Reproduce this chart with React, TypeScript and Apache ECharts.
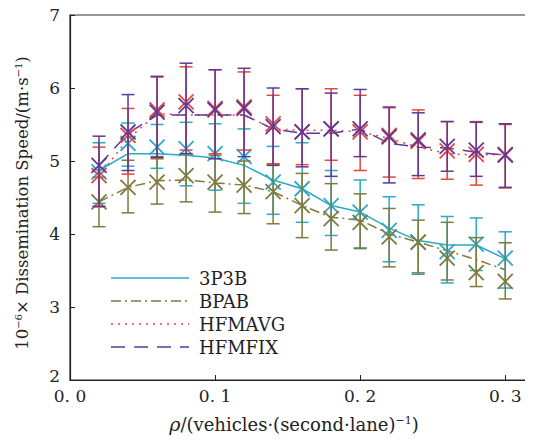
import React, { useEffect, useRef } from "react";
import * as echarts from "echarts";

const xData = [0.02, 0.04, 0.06, 0.08, 0.1, 0.12, 0.14, 0.16, 0.18, 0.2, 0.22, 0.24, 0.26, 0.28, 0.3];
const xTickValues = [0, 0.1, 0.2, 0.3];
const yTickValues = [2, 3, 4, 5, 6, 7];

// 3P3B
const p3Mean = [4.85, 5.24, 5.19, 5.17, 5.10, 5.06, 4.71, 4.62, 4.39, 4.30, 4.05, 3.89, 3.76, 3.86, 3.67];
const p3Line = [4.87, 5.10, 5.10, 5.08, 5.04, 4.94, 4.74, 4.62, 4.39, 4.30, 4.08, 3.91, 3.85, 3.85, 3.66];
const p3High = [5.25, 5.52, 5.50, 5.53, 5.51, 5.44, 5.20, 5.25, 4.87, 4.74, 4.51, 4.40, 4.24, 4.22, 4.03];
const p3Low = [4.42, 4.93, 4.90, 4.66, 4.60, 4.42, 4.27, 4.16, 3.98, 3.81, 3.62, 3.47, 3.33, 3.50, 3.26];

// BPAB
const bpMean = [4.44, 4.64, 4.71, 4.80, 4.71, 4.67, 4.58, 4.39, 4.21, 4.16, 3.96, 3.89, 3.67, 3.47, 3.35];
const bpLine = [4.44, 4.64, 4.73, 4.74, 4.70, 4.67, 4.58, 4.39, 4.23, 4.19, 4.00, 3.89, 3.77, 3.65, 3.51];
const bpHigh = [4.78, 5.01, 5.03, 5.10, 5.08, 5.00, 4.96, 4.83, 4.69, 4.55, 4.35, 4.19, 4.16, 3.95, 3.88];
const bpLow = [4.10, 4.29, 4.41, 4.44, 4.30, 4.28, 4.14, 3.95, 3.78, 3.80, 3.55, 3.45, 3.37, 3.28, 3.11];

// HFMAVG
const avMean = [4.80, 5.35, 5.70, 5.81, 5.72, 5.74, 5.51, 5.40, 5.44, 5.40, 5.35, 5.27, 5.14, 5.09, 5.09];
const avLine = [4.80, 5.30, 5.65, 5.63, 5.63, 5.63, 5.44, 5.42, 5.42, 5.40, 5.31, 5.19, 5.10, 5.08, 5.09];
const avHigh = [5.19, 5.72, 6.15, 6.29, 6.25, 6.22, 5.90, 5.99, 5.99, 5.90, 5.73, 5.70, 5.54, 5.54, 5.50];
const avLow = [4.37, 4.82, 5.06, 5.15, 5.10, 5.15, 4.96, 4.95, 5.01, 4.87, 4.78, 4.76, 4.75, 4.67, 4.63];

// HFMFIX
const fxMean = [4.94, 5.40, 5.67, 5.76, 5.70, 5.72, 5.47, 5.40, 5.44, 5.44, 5.33, 5.29, 5.20, 5.15, 5.08];
const fxLine = [4.94, 5.38, 5.63, 5.63, 5.63, 5.63, 5.44, 5.38, 5.38, 5.44, 5.24, 5.19, 5.18, 5.12, 5.08];
const fxHigh = [5.34, 5.91, 6.16, 6.34, 6.25, 6.27, 6.00, 5.99, 5.93, 5.98, 5.74, 5.66, 5.54, 5.53, 5.51];
const fxLow = [4.38, 4.87, 5.05, 5.10, 5.03, 5.06, 4.94, 4.92, 4.79, 5.06, 4.70, 4.80, 4.86, 4.79, 4.64];

const seriesNames = ["3P3B", "BPAB", "HFMAVG", "HFMFIX"];
const seriesColors = ["#2aaac8", "#7f7a3c", "#e8463e", "#603896"];
const seriesDashes: any[] = [null, [10, 4, 2, 4], [2, 5], [14, 9]];
const seriesMeans = [p3Mean, bpMean, avMean, fxMean];
const seriesLines = [p3Line, bpLine, avLine, fxLine];
const seriesHighs = [p3High, bpHigh, avHigh, fxHigh];
const seriesLows = [p3Low, bpLow, avLow, fxLow];

const FONT = "DejaVu Serif";

export default function App() {
  const ref = useRef<HTMLDivElement>(null);
  useEffect(() => {
    if (!ref.current) return;
    const chart = echarts.init(ref.current, undefined, { renderer: "svg" });

    const series: any[] = [];
    seriesNames.forEach((name, k) => {
      series.push({
        type: "line",
        name,
        data: xData.map((x, i) => [x, seriesLines[k][i]]),
        symbol: "none",
        lineStyle: { color: seriesColors[k], width: 1.5, type: seriesDashes[k] || "solid" },
        itemStyle: { color: seriesColors[k] },
        z: 2,
      });
    });
    seriesNames.forEach((name, k) => {
      const color = seriesColors[k];
      series.push({
        type: "custom",
        name: name + " error",
        data: xData.map((x, i) => [x, seriesLows[k][i], seriesHighs[k][i], seriesMeans[k][i]]),
        z: 3,
        renderItem: (params: any, api: any) => {
          const x = api.value(0);
          const lo = api.coord([x, api.value(1)]);
          const hi = api.coord([x, api.value(2)]);
          const m = api.coord([x, api.value(3)]);
          const cw = 6.5;
          const mk = 7.5;
          const st = { stroke: color, lineWidth: 1.5 };
          const mst = { stroke: color, lineWidth: 1.8 };
          return {
            type: "group",
            children: [
              { type: "line", shape: { x1: lo[0], y1: lo[1], x2: hi[0], y2: hi[1] }, style: st },
              { type: "line", shape: { x1: hi[0] - cw, y1: hi[1], x2: hi[0] + cw, y2: hi[1] }, style: st },
              { type: "line", shape: { x1: lo[0] - cw, y1: lo[1], x2: lo[0] + cw, y2: lo[1] }, style: st },
              { type: "line", shape: { x1: m[0] - mk, y1: m[1] - mk, x2: m[0] + mk, y2: m[1] + mk }, style: mst },
              { type: "line", shape: { x1: m[0] - mk, y1: m[1] + mk, x2: m[0] + mk, y2: m[1] - mk }, style: mst },
            ],
          };
        },
      });
    });

    const legendRows = [278, 301, 324, 347];
    const legendGraphics: any[] = [];
    seriesNames.forEach((name, k) => {
      const y = legendRows[k];
      legendGraphics.push({
        type: "line",
        shape: { x1: 111, y1: y, x2: 189, y2: y },
        style: { stroke: seriesColors[k], lineWidth: 1.5, lineDash: seriesDashes[k] || null },
      });
      legendGraphics.push({
        type: "text",
        x: 199,
        y,
        style: { text: name, fontSize: 18, fontFamily: FONT, fill: "#222", align: "left", verticalAlign: "middle" },
      });
    });

    const option: any = {
      animation: false,
      textStyle: { fontFamily: FONT },
      grid: { left: 70, top: 15, right: 6, bottom: 63, show: true, borderColor: "#333", borderWidth: 1.2 },
      xAxis: {
        type: "value",
        min: 0,
        max: 0.315,
        interval: 0.1,
        axisLine: { show: true, lineStyle: { color: "#222", width: 1.2 } },
        axisTick: { inside: true, length: 5, lineStyle: { color: "#222" } },
        splitLine: { show: false },
        axisLabel: {
          showMaxLabel: false,
          fontSize: 17,
          fontFamily: FONT,
          color: "#222",
          margin: 7,
          formatter: (v: number) => {
            const t = xTickValues.find((tv) => Math.abs(tv - v) < 1e-6);
            return t === undefined ? "" : t.toFixed(1).replace(".", ". ");
          },
        },
      },
      yAxis: {
        type: "value",
        min: 2,
        max: 7,
        interval: 1,
        axisLine: { show: true, lineStyle: { color: "#222", width: 1.2 } },
        axisTick: { inside: true, length: 5, lineStyle: { color: "#222" } },
        splitLine: { show: false },
        axisLabel: {
          fontSize: 17,
          fontFamily: FONT,
          color: "#222",
          margin: 10,
          formatter: (v: number) => {
            const t = yTickValues.find((tv) => Math.abs(tv - v) < 1e-6);
            if (t === undefined) return "";
            return t === 2 ? "{low|2}" : String(t);
          },
          rich: {
            low: { fontSize: 17, fontFamily: FONT, color: "#222", padding: [0, 0, 9, 0] },
          },
        },
      },
      graphic: [
        ...legendGraphics,
        {
          type: "text",
          x: 22,
          y: 203,
          rotation: Math.PI / 2,
          style: {
            text: "10{sup|−6}× Dissemination Speed/(m·s{sup|−1})",
            fontSize: 16.5,
            fontFamily: FONT,
            fill: "#222",
            align: "center",
            verticalAlign: "middle",
            rich: {
              sup: { fontSize: 10, fontFamily: FONT, fill: "#222", verticalAlign: "top", padding: [0, 0, 8, 0] },
            },
          },
        },
        {
          type: "text",
          x: 294,
          y: 424,
          style: {
            text: "{it|ρ}/(vehicles·(second·lane){sup|−1})",
            fontSize: 18,
            fontFamily: FONT,
            fill: "#222",
            align: "center",
            verticalAlign: "middle",
            rich: {
              it: { fontStyle: "italic", fontSize: 19, fontFamily: FONT, fill: "#222" },
              sup: { fontSize: 11, fontFamily: FONT, fill: "#222", verticalAlign: "top", padding: [0, 0, 8, 0] },
            },
          },
        },
      ],
      series,
    };
    chart.setOption(option);
    return () => chart.dispose();
  }, []);
  return <div ref={ref} style={{ width: 533, height: 443, margin: -8 }} />;
}
